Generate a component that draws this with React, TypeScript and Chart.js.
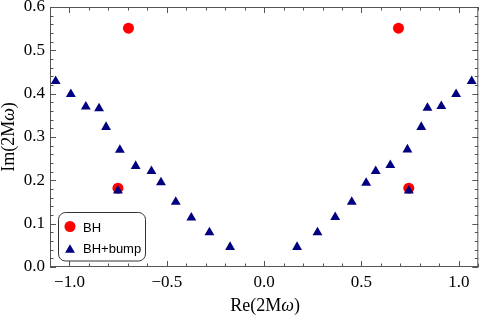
import React, { useEffect, useRef } from 'react';
import { Chart, registerables } from 'chart.js';

Chart.register(...registerables);

// ---- data ----
const bhRe = [-0.697, 0.69, -0.751, 0.743];
const bhIm = [0.551, 0.551, 0.182, 0.182];

const bumpRe = [
  -1.071, -0.993, -0.916, -0.848, -0.812, -0.741, -0.751, -0.66, -0.579, -0.53, -0.454, -0.374, -0.281, -0.175,
  0.169, 0.274, 0.365, 0.45, 0.524, 0.573, 0.648, 0.743, 0.736, 0.807, 0.839, 0.91, 0.986, 1.066,
];
const bumpIm = [
  0.429, 0.399, 0.37, 0.366, 0.323, 0.27, 0.176, 0.233, 0.221, 0.195, 0.15, 0.114, 0.08, 0.046,
  0.046, 0.08, 0.115, 0.15, 0.194, 0.221, 0.235, 0.176, 0.271, 0.323, 0.367, 0.371, 0.399, 0.429,
];

const seriesLabels = ['BH', 'BH+bump'];
const xTickValues = [-1.0, -0.5, 0.0, 0.5, 1.0];
const yTickValues = [0.0, 0.1, 0.2, 0.3, 0.4, 0.5, 0.6];
const xMinorStep = 0.1;
const yMinorStep = 0.02;
const xRange = [-1.1, 1.1];
const yRange = [0, 0.6];
const xTitleParts = [
  { text: 'Re(2M', italic: false },
  { text: 'ω', italic: true },
  { text: ')', italic: false },
];
const yTitleParts = [
  { text: 'Im(2M', italic: false },
  { text: 'ω', italic: true },
  { text: ')', italic: false },
];

const BH_COLOR = '#ff0000';
const BUMP_COLOR = '#000080';
const FRAME_COLOR = '#555555';
const SERIF = '"Liberation Serif", "Times New Roman", serif';
const SANS = '"Liberation Sans", Arial, sans-serif';

function fmtTick(v: number): string {
  const s = Math.abs(v).toFixed(1);
  return v < -1e-9 ? '\u2212' + s : s;
}

function drawMixed(ctx: CanvasRenderingContext2D, parts: { text: string; italic: boolean }[], size: number) {
  let total = 0;
  const widths = parts.map((p) => {
    ctx.font = `${p.italic ? 'italic ' : ''}${size}px ${SERIF}`;
    const w = ctx.measureText(p.text).width;
    total += w;
    return w;
  });
  let x = -total / 2;
  parts.forEach((p, i) => {
    ctx.font = `${p.italic ? 'italic ' : ''}${size}px ${SERIF}`;
    ctx.fillText(p.text, x, 0);
    x += widths[i];
  });
}

const framePlugin = {
  id: 'framePlugin',
  afterDraw(chart: any) {
    const ctx: CanvasRenderingContext2D = chart.ctx;
    const { left, right, top, bottom } = chart.chartArea;
    const xs = chart.scales.x;
    const ys = chart.scales.y;
    ctx.save();
    ctx.strokeStyle = FRAME_COLOR;
    ctx.lineWidth = 1;
    ctx.strokeRect(left + 0.5, top + 0.5, right - left - 1, bottom - top - 1);

    const majorLen = 6;
    const minorLen = 3.5;
    ctx.beginPath();
    const nx0 = Math.round(xRange[0] / xMinorStep);
    const nx1 = Math.round(xRange[1] / xMinorStep);
    for (let i = nx0; i <= nx1; i++) {
      const v = i * xMinorStep;
      const isMajor = xTickValues.some((t) => Math.abs(t - v) < 1e-6);
      const len = isMajor ? majorLen : minorLen;
      const px = Math.round(xs.getPixelForValue(v)) + 0.5;
      ctx.moveTo(px, bottom);
      ctx.lineTo(px, bottom - len);
      ctx.moveTo(px, top);
      ctx.lineTo(px, top + len);
    }
    const ny0 = Math.round(yRange[0] / yMinorStep);
    const ny1 = Math.round(yRange[1] / yMinorStep);
    for (let i = ny0; i <= ny1; i++) {
      const v = i * yMinorStep;
      const isMajor = yTickValues.some((t) => Math.abs(t - v) < 1e-6);
      const len = isMajor ? majorLen : minorLen;
      const py = Math.round(ys.getPixelForValue(v)) + 0.5;
      ctx.moveTo(left, py);
      ctx.lineTo(left + len, py);
      ctx.moveTo(right, py);
      ctx.lineTo(right - len, py);
    }
    ctx.stroke();

    // axis titles
    ctx.fillStyle = '#000';
    ctx.textBaseline = 'alphabetic';
    ctx.textAlign = 'left';
    ctx.save();
    ctx.translate((left + right) / 2 + 1, 311);
    drawMixed(ctx, xTitleParts, 18);
    ctx.restore();
    ctx.save();
    ctx.translate(14, (top + bottom) / 2);
    ctx.rotate(-Math.PI / 2);
    drawMixed(ctx, yTitleParts, 18);
    ctx.restore();

    // legend
    const lx = 58.5, ly = 212.5, lw = 87, lh = 48.5;
    ctx.beginPath();
    (ctx as any).roundRect(lx, ly, lw, lh, 7);
    ctx.fillStyle = '#ffffff';
    ctx.fill();
    ctx.strokeStyle = '#333333';
    ctx.lineWidth = 1;
    ctx.stroke();

    const ds = chart.data.datasets;
    // circle
    ctx.beginPath();
    ctx.arc(70, 226.5, ds[0].pointRadius, 0, Math.PI * 2);
    ctx.fillStyle = ds[0].backgroundColor;
    ctx.fill();
    // triangle (same geometry as Chart.js)
    const r = ds[1].pointRadius;
    const cx = 70, cy = 250;
    ctx.beginPath();
    let rad = 0;
    ctx.moveTo(cx + Math.sin(rad) * r, cy - Math.cos(rad) * r);
    rad += (2 * Math.PI) / 3;
    ctx.lineTo(cx + Math.sin(rad) * r, cy - Math.cos(rad) * r);
    rad += (2 * Math.PI) / 3;
    ctx.lineTo(cx + Math.sin(rad) * r, cy - Math.cos(rad) * r);
    ctx.closePath();
    ctx.fillStyle = ds[1].backgroundColor;
    ctx.fill();

    ctx.fillStyle = '#000';
    ctx.font = `13px ${SANS}`;
    ctx.textBaseline = 'middle';
    ctx.textAlign = 'left';
    ctx.fillText(ds[0].label, 83, 228);
    ctx.fillText(ds[1].label, 83, 249.5);
    ctx.restore();
  },
};

export default function App() {
  const canvasRef = useRef<HTMLCanvasElement | null>(null);

  useEffect(() => {
    document.body.style.margin = '0';
    const canvas = canvasRef.current;
    if (!canvas) return;
    const chart = new Chart(canvas, {
      type: 'scatter',
      data: {
        datasets: [
          {
            label: seriesLabels[0],
            data: bhRe.map((x, i) => ({ x, y: bhIm[i] })),
            pointStyle: 'circle',
            pointRadius: 5.5,
            pointHoverRadius: 5.5,
            backgroundColor: BH_COLOR,
            borderWidth: 0,
            order: 2,
          },
          {
            label: seriesLabels[1],
            data: bumpRe.map((x, i) => ({ x, y: bumpIm[i] })),
            pointStyle: 'triangle',
            pointRadius: 5.7,
            pointHoverRadius: 5.7,
            backgroundColor: BUMP_COLOR,
            borderWidth: 0,
            order: 1,
          },
        ] as any,
      },
      options: {
        animation: false,
        responsive: false,
        events: [],
        layout: { padding: { top: 7, right: 1, left: 0, bottom: 0 } },
        plugins: {
          legend: { display: false },
          tooltip: { enabled: false },
        },
        scales: {
          x: {
            type: 'linear',
            min: xRange[0],
            max: xRange[1],
            grid: { display: false, drawTicks: false },
            border: { display: false },
            afterBuildTicks: (s: any) => {
              s.ticks = xTickValues.map((v) => ({ value: v }));
            },
            afterFit: (s: any) => {
              s.height = 50;
              s.paddingLeft = 0;
              s.paddingRight = 0;
            },
            ticks: {
              autoSkip: false,
              maxRotation: 0,
              padding: 5,
              color: '#000',
              font: { family: SERIF, size: 17 },
              callback: (v: any) => fmtTick(Number(v)),
            },
          },
          y: {
            type: 'linear',
            min: yRange[0],
            max: yRange[1],
            grid: { display: false, drawTicks: false },
            border: { display: false },
            afterBuildTicks: (s: any) => {
              s.ticks = yTickValues.map((v) => ({ value: v }));
            },
            afterFit: (s: any) => {
              s.width = 50;
              s.paddingTop = 0;
              s.paddingBottom = 0;
            },
            ticks: {
              autoSkip: false,
              padding: 5,
              color: '#000',
              font: { family: SERIF, size: 17 },
              callback: (v: any) => fmtTick(Number(v)),
            },
          },
        },
      } as any,
      plugins: [framePlugin],
    });
    return () => chart.destroy();
  }, []);

  return (
    <div style={{ width: 484, height: 317 }}>
      <canvas ref={canvasRef} width={484} height={317} style={{ display: 'block' }} />
    </div>
  );
}
